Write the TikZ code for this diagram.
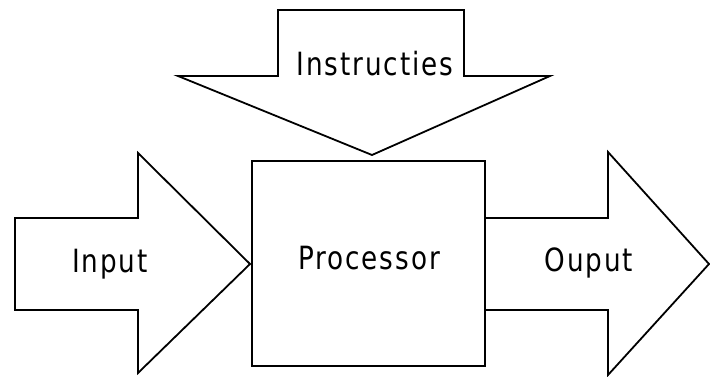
\documentclass[tikz,border=0pt]{standalone}
\usepackage{fontspec}
\setmainfont{DejaVu Sans}[FakeStretch=0.82, LetterSpace=6]
\tikzset{
	blokpijl/.style={draw=black, line width=1.8pt, line join=miter, fill=white},
	tekst/.style={font=\fontsize{32}{35}\selectfont, inner sep=0pt}
}
\begin{document}
\begin{tikzpicture}[x=1pt, y=-1pt]
		\useasboundingbox (0,0) rectangle (710,377);

		% Pijl boven: instructies
		\draw[blokpijl] (278,10) -- (464,10) -- (464,76) -- (550,76) -- (372,155) -- (178,76) -- (278,76) -- cycle;
		\node[tekst] (instructies) at (375,64) {Instructies};

		% Pijl links: input
		\draw[blokpijl] (15,218) -- (138,218) -- (138,153) -- (250,264) -- (138,373) -- (138,310) -- (15,310) -- cycle;
		\node[tekst] (input) at (110,264) {Input};

		% Pijl rechts: output
		\draw[blokpijl] (485,218) -- (608,218) -- (608,152) -- (709,264) -- (608,375) -- (608,310) -- (485,310) -- cycle;
		\node[tekst] (output) at (589,263) {Ouput};

		% Processor
		\draw[blokpijl] (252,161) rectangle (485,366);
		\node[tekst] (processor) at (369,258) {Processor};
	\end{tikzpicture}
\end{document}
